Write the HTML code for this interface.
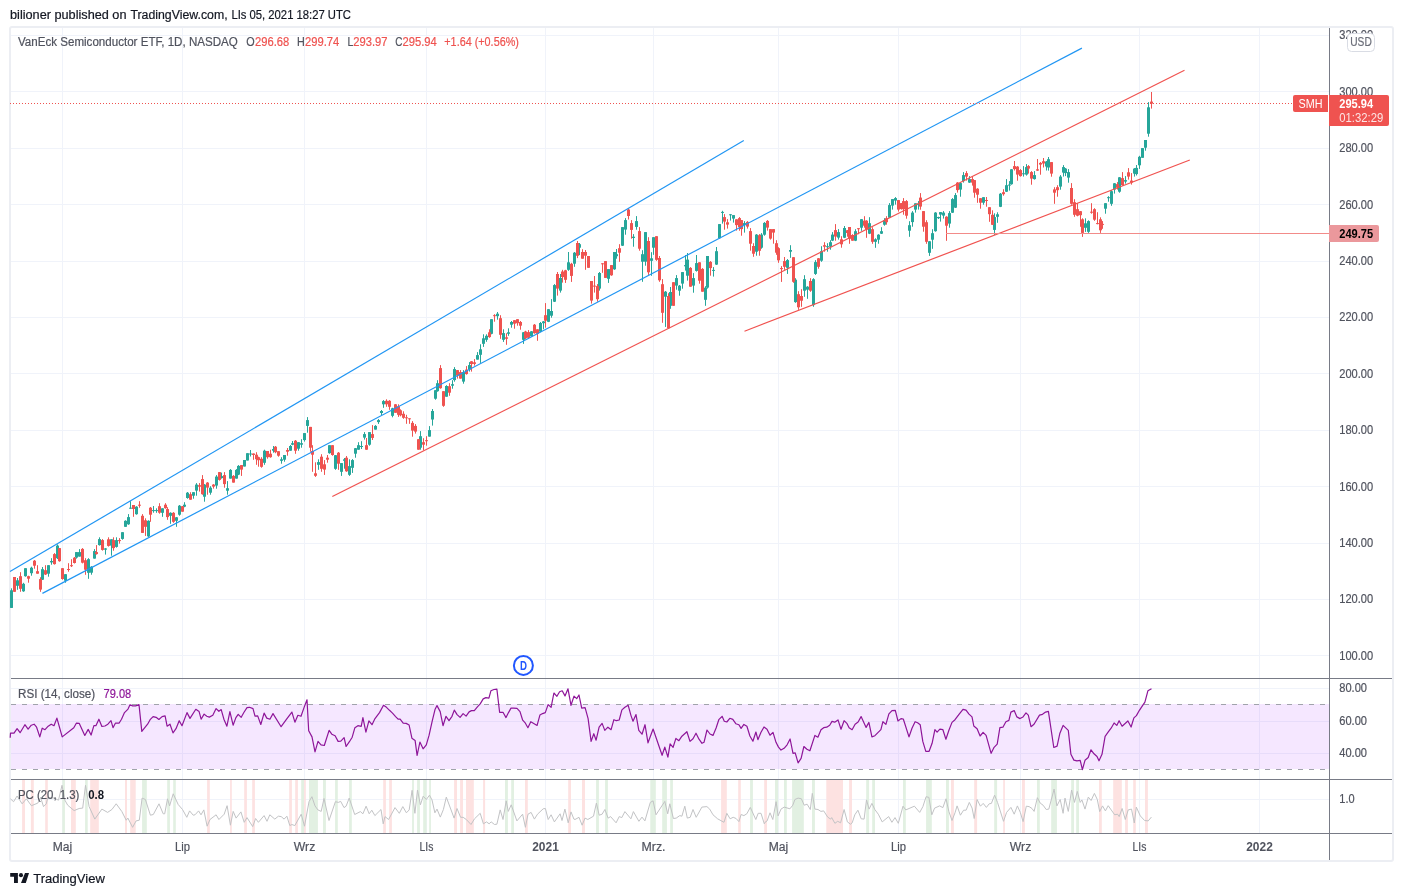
<!DOCTYPE html>
<html lang="pl"><head><meta charset="utf-8"><title>SMH chart</title>
<style>
html,body{margin:0;padding:0;background:#fff;}
body{width:1403px;height:896px;position:relative;overflow:hidden;font-family:"Liberation Sans",sans-serif;}
#frame{position:absolute;left:9px;top:26px;width:1381px;height:832px;border:2px solid #eceef3;border-radius:3px;}
svg{position:absolute;left:0;top:0;}
svg text{font-family:"Liberation Sans",sans-serif;}
</style></head><body>
<div id="frame"></div>
<svg width="1403" height="896" viewBox="0 0 1403 896">
<g><rect x="62" y="28" width="1" height="805" fill="#f0f3fa"/><rect x="182" y="28" width="1" height="805" fill="#f0f3fa"/><rect x="304" y="28" width="1" height="805" fill="#f0f3fa"/><rect x="426" y="28" width="1" height="805" fill="#f0f3fa"/><rect x="545" y="28" width="1" height="805" fill="#f0f3fa"/><rect x="653" y="28" width="1" height="805" fill="#f0f3fa"/><rect x="778" y="28" width="1" height="805" fill="#f0f3fa"/><rect x="898" y="28" width="1" height="805" fill="#f0f3fa"/><rect x="1020" y="28" width="1" height="805" fill="#f0f3fa"/><rect x="1139" y="28" width="1" height="805" fill="#f0f3fa"/><rect x="1259" y="28" width="1" height="805" fill="#f0f3fa"/><rect x="11" y="35" width="1318" height="1" fill="#f0f3fa"/><rect x="11" y="91" width="1318" height="1" fill="#f0f3fa"/><rect x="11" y="148" width="1318" height="1" fill="#f0f3fa"/><rect x="11" y="204" width="1318" height="1" fill="#f0f3fa"/><rect x="11" y="261" width="1318" height="1" fill="#f0f3fa"/><rect x="11" y="317" width="1318" height="1" fill="#f0f3fa"/><rect x="11" y="373" width="1318" height="1" fill="#f0f3fa"/><rect x="11" y="430" width="1318" height="1" fill="#f0f3fa"/><rect x="11" y="486" width="1318" height="1" fill="#f0f3fa"/><rect x="11" y="543" width="1318" height="1" fill="#f0f3fa"/><rect x="11" y="599" width="1318" height="1" fill="#f0f3fa"/><rect x="11" y="655" width="1318" height="1" fill="#f0f3fa"/><rect x="11" y="688" width="1318" height="1" fill="#f0f3fa"/><rect x="11" y="721" width="1318" height="1" fill="#f0f3fa"/><rect x="11" y="753" width="1318" height="1" fill="#f0f3fa"/><rect x="11" y="799" width="1318" height="1" fill="#f0f3fa"/></g>
<rect x="11" y="704" width="1318" height="65" fill="#9915ff" fill-opacity="0.1"/>
<path d="M11 704.5H1329M11 769.5H1329" stroke="#a0a3ab" stroke-width="1" stroke-dasharray="5 6" fill="none"/>
<g><rect x="22.1" y="780" width="2.9" height="53" fill="#fde2e1"/><rect x="30.9" y="780" width="2.9" height="53" fill="#fde2e1"/><rect x="45.2" y="780" width="2.6" height="53" fill="#fde2e1"/><rect x="62.3" y="780" width="2.6" height="53" fill="#e2f0e2"/><rect x="71.0" y="780" width="4.8" height="53" fill="#fde2e1"/><rect x="85.1" y="780" width="2.6" height="53" fill="#e2f0e2"/><rect x="90.2" y="780" width="8.6" height="53" fill="#fde2e1"/><rect x="125.0" y="780" width="2.0" height="53" fill="#fde2e1"/><rect x="130.2" y="780" width="5.5" height="53" fill="#fde2e1"/><rect x="142.1" y="780" width="4.7" height="53" fill="#e2f0e2"/><rect x="167.2" y="780" width="2.7" height="53" fill="#e2f0e2"/><rect x="173.2" y="780" width="2.6" height="53" fill="#e2f0e2"/><rect x="207.1" y="780" width="2.7" height="53" fill="#fde2e1"/><rect x="230.1" y="780" width="1.7" height="53" fill="#fde2e1"/><rect x="244.2" y="780" width="2.7" height="53" fill="#fde2e1"/><rect x="252.2" y="780" width="2.7" height="53" fill="#fde2e1"/><rect x="289.2" y="780" width="2.7" height="53" fill="#fde2e1"/><rect x="295.2" y="780" width="2.7" height="53" fill="#fde2e1"/><rect x="301.2" y="780" width="2.9" height="53" fill="#e2f0e2"/><rect x="304.1" y="780" width="1.7" height="53" fill="#fde2e1"/><rect x="309.0" y="780" width="8.9" height="53" fill="#e2f0e2"/><rect x="323.0" y="780" width="2.9" height="53" fill="#e2f0e2"/><rect x="335.1" y="780" width="2.7" height="53" fill="#e2f0e2"/><rect x="349.1" y="780" width="2.7" height="53" fill="#e2f0e2"/><rect x="383.2" y="780" width="2.7" height="53" fill="#fde2e1"/><rect x="389.2" y="780" width="2.7" height="53" fill="#fde2e1"/><rect x="412.1" y="780" width="1.8" height="53" fill="#e2f0e2"/><rect x="417.1" y="780" width="2.8" height="53" fill="#e2f0e2"/><rect x="423.2" y="780" width="3.4" height="53" fill="#e2f0e2"/><rect x="429.2" y="780" width="1.7" height="53" fill="#e2f0e2"/><rect x="454.1" y="780" width="2.9" height="53" fill="#fde2e1"/><rect x="460.1" y="780" width="2.9" height="53" fill="#fde2e1"/><rect x="466.0" y="780" width="7.8" height="53" fill="#fde2e1"/><rect x="483.1" y="780" width="2.0" height="53" fill="#fde2e1"/><rect x="505.0" y="780" width="2.9" height="53" fill="#e2f0e2"/><rect x="511.2" y="780" width="2.8" height="53" fill="#e2f0e2"/><rect x="525.0" y="780" width="2.8" height="53" fill="#fde2e1"/><rect x="568.2" y="780" width="2.8" height="53" fill="#fde2e1"/><rect x="582.0" y="780" width="3.0" height="53" fill="#fde2e1"/><rect x="596.1" y="780" width="2.8" height="53" fill="#e2f0e2"/><rect x="605.1" y="780" width="2.8" height="53" fill="#e2f0e2"/><rect x="650.3" y="780" width="5.5" height="53" fill="#e2f0e2"/><rect x="662.2" y="780" width="4.7" height="53" fill="#e2f0e2"/><rect x="670.2" y="780" width="2.7" height="53" fill="#e2f0e2"/><rect x="721.1" y="780" width="5.7" height="53" fill="#fde2e1"/><rect x="738.2" y="780" width="2.6" height="53" fill="#fde2e1"/><rect x="750.1" y="780" width="2.8" height="53" fill="#e2f0e2"/><rect x="764.2" y="780" width="2.8" height="53" fill="#fde2e1"/><rect x="775.0" y="780" width="3.1" height="53" fill="#e2f0e2"/><rect x="784.0" y="780" width="2.8" height="53" fill="#e2f0e2"/><rect x="792.1" y="780" width="11.7" height="53" fill="#e2f0e2"/><rect x="812.0" y="780" width="2.9" height="53" fill="#e2f0e2"/><rect x="826.3" y="780" width="16.7" height="53" fill="#fde2e1"/><rect x="849.1" y="780" width="2.9" height="53" fill="#fde2e1"/><rect x="866.2" y="780" width="2.9" height="53" fill="#e2f0e2"/><rect x="872.2" y="780" width="2.8" height="53" fill="#e2f0e2"/><rect x="903.0" y="780" width="2.8" height="53" fill="#e2f0e2"/><rect x="926.1" y="780" width="5.7" height="53" fill="#e2f0e2"/><rect x="946.0" y="780" width="2.9" height="53" fill="#e2f0e2"/><rect x="951.0" y="780" width="2.9" height="53" fill="#fde2e1"/><rect x="974.2" y="780" width="2.9" height="53" fill="#fde2e1"/><rect x="994.2" y="780" width="2.9" height="53" fill="#e2f0e2"/><rect x="1003.2" y="780" width="1.7" height="53" fill="#fde2e1"/><rect x="1022.0" y="780" width="2.9" height="53" fill="#fde2e1"/><rect x="1037.0" y="780" width="2.8" height="53" fill="#e2f0e2"/><rect x="1051.2" y="780" width="5.7" height="53" fill="#e2f0e2"/><rect x="1071.2" y="780" width="2.8" height="53" fill="#e2f0e2"/><rect x="1076.2" y="780" width="2.8" height="53" fill="#e2f0e2"/><rect x="1099.0" y="780" width="2.8" height="53" fill="#fde2e1"/><rect x="1113.2" y="780" width="8.6" height="53" fill="#fde2e1"/><rect x="1125.1" y="780" width="2.8" height="53" fill="#fde2e1"/><rect x="1133.2" y="780" width="2.6" height="53" fill="#fde2e1"/><rect x="1145.0" y="780" width="2.9" height="53" fill="#fde2e1"/></g>
<polyline fill="none" stroke="#c2c3c5" stroke-width="1" stroke-linejoin="round" points="10.4,798.8 13.6,801.7 17.1,796.0 22.1,803.8 26.4,798.8 31.4,805.7 37.8,803.1 40.6,797.4 43.5,806.6 46.3,803.8 47.8,797.4 54.2,798.1 58.5,800.2 62.0,785.3 64.9,800.2 67.7,805.2 74.1,810.6 79.1,808.5 82.7,808.1 85.5,785.3 89.1,806.6 94.8,819.1 101.9,809.1 107.6,812.4 111.9,809.5 116.2,803.8 121.9,811.6 126.2,820.2 127.9,818.1 132.6,827.3 136.1,820.9 139.3,820.2 142.1,798.1 145.4,799.5 150.4,815.2 153.3,814.5 159.0,803.8 163.2,813.8 164.7,813.8 167.5,798.8 169.6,805.9 173.2,793.8 178.2,804.5 182.5,809.5 186.8,817.3 189.6,810.9 193.2,815.2 195.0,814.8 198.6,810.9 201.0,814.8 203.8,809.9 207.1,826.2 210.0,819.5 216.1,814.8 218.9,819.5 224.2,814.2 227.1,805.7 230.4,825.2 233.2,811.4 236.1,818.1 240.9,811.9 244.2,822.3 247.0,817.6 252.7,826.6 255.6,818.5 258.4,822.3 264.1,815.6 267.0,821.3 269.8,814.8 274.8,819.1 278.4,816.2 281.2,816.6 284.1,819.1 286.9,816.2 289.8,825.6 291.9,824.5 294.8,825.6 301.2,814.2 304.5,826.2 309.0,801.7 311.9,796.7 315.0,805.9 317.9,809.9 321.2,811.4 324.0,798.5 329.0,820.5 335.4,801.7 338.3,802.4 340.7,801.4 344.0,807.6 346.1,806.2 349.2,798.1 354.7,814.5 360.4,811.6 362.9,813.8 366.1,806.2 369.2,813.8 371.8,810.2 374.9,815.6 381.0,809.5 383.2,823.8 385.0,816.6 388.6,819.5 395.0,807.6 399.3,813.3 402.8,806.6 406.4,812.8 409.2,809.9 412.1,790.3 414.9,813.3 417.5,790.0 420.4,804.8 423.2,796.2 426.3,799.5 429.5,795.2 432.0,799.9 434.9,812.8 437.0,809.1 440.3,817.1 443.4,809.5 446.3,797.1 454.1,818.1 457.0,808.5 460.6,817.3 463.1,817.3 466.3,819.5 471.0,824.5 474.5,818.8 480.2,813.3 483.4,823.8 486.5,821.9 489.1,823.8 491.2,821.9 494.5,824.5 496.9,824.2 500.2,809.9 503.0,819.5 506.2,800.9 508.3,811.4 511.2,804.8 516.9,820.9 522.6,814.2 525.4,827.3 528.0,814.2 531.1,812.4 534.4,819.1 537.5,814.2 543.2,808.8 545.4,808.5 548.2,819.5 551.1,814.8 554.4,821.9 560.1,813.8 562.0,820.5 564.9,809.1 568.2,822.8 571.0,811.9 573.9,819.1 575.0,819.5 579.0,817.3 582.1,825.2 585.0,818.1 587.8,819.5 593.5,816.2 596.4,803.1 599.2,815.2 602.1,814.2 604.9,809.5 608.1,818.1 610.6,816.6 616.1,822.8 619.2,816.6 621.8,817.6 624.9,811.6 630.9,818.8 633.4,811.6 638.9,821.3 642.0,817.1 644.9,820.9 650.3,802.4 653.1,800.9 656.0,814.8 664.8,801.4 667.7,813.8 669.8,803.8 673.4,818.5 676.2,818.1 679.8,815.6 681.9,816.2 684.8,806.2 687.3,818.1 690.2,817.3 693.0,809.5 696.2,817.3 701.9,807.1 706.9,806.6 709.7,809.1 713.0,814.8 717.6,818.8 724.0,822.3 726.8,813.3 730.1,818.8 733.2,817.3 736.1,818.5 738.9,821.6 741.1,814.5 743.9,815.6 746.8,813.8 750.3,807.4 755.8,819.5 758.2,813.3 761.0,813.3 764.3,823.8 765.0,822.3 767.1,820.9 770.0,812.8 772.8,819.5 776.1,801.7 778.1,815.9 781.0,809.1 784.2,807.1 789.9,808.8 792.8,805.2 794.9,799.5 798.1,798.1 801.4,798.8 804.2,805.2 807.1,804.2 810.3,809.5 812.3,793.4 814.9,809.1 818.0,809.5 820.9,811.4 823.7,810.9 827.7,817.1 830.6,819.1 831.7,817.6 834.9,823.3 837.7,821.3 840.6,822.8 844.1,809.5 847.4,821.9 850.5,824.2 852.2,822.8 854.8,814.8 857.9,810.2 861.2,818.8 864.1,819.1 866.5,799.9 869.1,809.1 871.9,803.4 874.8,809.5 878.3,814.2 882.2,821.9 888.7,816.6 891.9,822.3 895.0,817.6 898.3,823.3 903.0,806.2 905.8,809.9 914.4,806.2 919.7,812.4 922.9,806.6 926.1,796.7 928.9,797.4 931.8,814.8 934.6,808.1 939.6,805.9 942.9,807.6 946.0,798.8 948.9,811.6 952.0,820.5 955.0,812.8 957.1,805.9 960.4,815.2 963.6,810.2 966.1,810.2 969.3,802.4 972.1,808.1 974.2,818.5 977.1,799.5 980.4,806.2 983.2,803.4 986.4,807.4 989.2,803.8 991.4,803.4 994.6,795.2 997.5,802.4 1003.5,821.3 1006.6,812.4 1010.9,807.4 1014.2,814.2 1017.4,805.9 1020.3,812.4 1023.1,821.6 1026.3,806.2 1029.1,806.6 1032.0,808.5 1034.1,811.4 1037.4,797.7 1040.2,803.1 1043.1,805.2 1046.2,809.5 1048.8,809.1 1054.1,789.1 1056.9,805.9 1060.2,799.5 1063.1,813.3 1065.0,798.1 1068.3,811.4 1071.6,790.0 1074.5,802.4 1077.3,791.4 1080.2,802.4 1081.9,799.9 1085.0,809.1 1088.3,797.1 1091.1,800.5 1094.4,793.4 1097.3,799.5 1099.7,811.6 1102.5,805.9 1105.4,810.9 1108.2,805.7 1114.7,814.8 1117.5,814.2 1119.2,816.6 1122.1,808.5 1125.3,819.5 1128.2,809.9 1131.5,809.1 1134.3,823.0 1136.3,807.1 1140.3,815.9 1144.6,820.5 1148.2,820.9 1151.4,817.1"/>
<g fill="#26a69a"><rect x="11" y="588.3" width="1" height="19.6"/><rect x="10" y="590.3" width="3" height="17.6"/><rect x="17" y="578.0" width="1" height="11.8"/><rect x="16" y="580.3" width="3" height="5.5"/><rect x="23" y="582.8" width="1" height="9.0"/><rect x="22" y="583.8" width="3" height="7.5"/><rect x="25" y="568.2" width="1" height="8.5"/><rect x="24" y="568.2" width="3" height="8.0"/><rect x="31" y="566.7" width="1" height="9.0"/><rect x="30" y="567.7" width="3" height="5.5"/><rect x="42" y="567.0" width="1" height="13.0"/><rect x="41" y="569.2" width="3" height="10.5"/><rect x="48" y="565.2" width="1" height="11.5"/><rect x="47" y="565.2" width="3" height="8.5"/><rect x="51" y="558.2" width="1" height="6.5"/><rect x="50" y="561.0" width="3" height="1.4"/><rect x="57" y="544.4" width="1" height="14.6"/><rect x="56" y="545.6" width="3" height="12.6"/><rect x="65" y="574.2" width="1" height="8.5"/><rect x="64" y="574.2" width="3" height="6.5"/><rect x="76" y="552.1" width="1" height="6.5"/><rect x="75" y="552.1" width="3" height="5.5"/><rect x="79" y="549.1" width="1" height="7.5"/><rect x="78" y="552.1" width="3" height="4.5"/><rect x="88" y="558.2" width="1" height="20.6"/><rect x="87" y="559.2" width="3" height="13.6"/><rect x="91" y="566.2" width="1" height="8.5"/><rect x="90" y="566.7" width="3" height="6.0"/><rect x="94" y="549.1" width="1" height="9.5"/><rect x="93" y="551.1" width="3" height="7.5"/><rect x="99" y="537.3" width="1" height="8.3"/><rect x="98" y="539.1" width="3" height="6.0"/><rect x="105" y="548.1" width="1" height="6.5"/><rect x="104" y="548.4" width="3" height="1.3"/><rect x="111" y="539.3" width="1" height="16.4"/><rect x="110" y="539.3" width="3" height="6.3"/><rect x="116" y="537.3" width="1" height="10.3"/><rect x="115" y="540.1" width="3" height="6.8"/><rect x="122" y="532.2" width="1" height="7.5"/><rect x="121" y="532.2" width="3" height="6.7"/><rect x="125" y="520.3" width="1" height="6.5"/><rect x="124" y="520.8" width="3" height="6.0"/><rect x="128" y="514.1" width="1" height="10.7"/><rect x="127" y="517.1" width="3" height="7.2"/><rect x="130" y="501.2" width="1" height="7.5"/><rect x="129" y="507.7" width="3" height="1.0"/><rect x="136" y="506.2" width="1" height="8.5"/><rect x="135" y="506.7" width="3" height="7.5"/><rect x="148" y="520.3" width="1" height="16.6"/><rect x="147" y="520.8" width="3" height="15.6"/><rect x="153" y="506.0" width="1" height="6.7"/><rect x="152" y="510.1" width="3" height="1.0"/><rect x="156" y="508.3" width="1" height="4.5"/><rect x="155" y="510.1" width="3" height="1.0"/><rect x="162" y="508.3" width="1" height="8.5"/><rect x="161" y="508.3" width="3" height="4.5"/><rect x="170" y="512.3" width="1" height="11.5"/><rect x="169" y="512.8" width="3" height="3.0"/><rect x="176" y="517.1" width="1" height="9.7"/><rect x="175" y="517.3" width="3" height="3.5"/><rect x="179" y="505.0" width="1" height="10.7"/><rect x="178" y="505.7" width="3" height="9.0"/><rect x="184" y="502.2" width="1" height="5.0"/><rect x="183" y="504.7" width="3" height="2.0"/><rect x="187" y="492.0" width="1" height="6.7"/><rect x="186" y="492.7" width="3" height="5.3"/><rect x="193" y="492.2" width="1" height="6.5"/><rect x="192" y="492.2" width="3" height="3.5"/><rect x="196" y="483.1" width="1" height="12.6"/><rect x="195" y="484.6" width="3" height="6.0"/><rect x="204" y="484.1" width="1" height="17.6"/><rect x="203" y="484.6" width="3" height="12.1"/><rect x="210" y="486.2" width="1" height="8.5"/><rect x="209" y="487.7" width="3" height="5.0"/><rect x="216" y="475.1" width="1" height="13.6"/><rect x="215" y="476.6" width="3" height="9.0"/><rect x="221" y="472.6" width="1" height="6.0"/><rect x="220" y="476.1" width="3" height="2.0"/><rect x="227" y="481.1" width="1" height="13.6"/><rect x="226" y="488.2" width="3" height="2.5"/><rect x="230" y="469.1" width="1" height="9.5"/><rect x="229" y="469.9" width="3" height="8.7"/><rect x="236" y="469.1" width="1" height="9.5"/><rect x="235" y="469.9" width="3" height="8.7"/><rect x="238" y="465.1" width="1" height="10.0"/><rect x="237" y="465.9" width="3" height="8.7"/><rect x="244" y="460.0" width="1" height="6.5"/><rect x="243" y="460.0" width="3" height="6.5"/><rect x="247" y="453.2" width="1" height="7.3"/><rect x="246" y="453.2" width="3" height="7.3"/><rect x="250" y="450.0" width="1" height="6.5"/><rect x="249" y="453.5" width="3" height="1.0"/><rect x="264" y="449.7" width="1" height="15.1"/><rect x="263" y="450.7" width="3" height="12.1"/><rect x="273" y="446.0" width="1" height="6.7"/><rect x="272" y="449.0" width="3" height="1.7"/><rect x="281" y="457.2" width="1" height="6.5"/><rect x="280" y="459.3" width="3" height="1.5"/><rect x="284" y="455.0" width="1" height="6.7"/><rect x="283" y="455.0" width="3" height="4.7"/><rect x="290" y="445.0" width="1" height="5.7"/><rect x="289" y="446.0" width="3" height="4.7"/><rect x="292" y="441.0" width="1" height="4.2"/><rect x="291" y="443.2" width="3" height="1.5"/><rect x="298" y="442.2" width="1" height="8.5"/><rect x="297" y="442.2" width="3" height="6.5"/><rect x="301" y="439.2" width="1" height="8.5"/><rect x="300" y="443.2" width="3" height="1.5"/><rect x="304" y="433.1" width="1" height="8.5"/><rect x="303" y="433.1" width="3" height="7.0"/><rect x="307" y="417.1" width="1" height="15.6"/><rect x="306" y="420.1" width="3" height="5.8"/><rect x="318" y="459.3" width="1" height="10.5"/><rect x="317" y="462.1" width="3" height="2.7"/><rect x="329" y="445.2" width="1" height="8.5"/><rect x="328" y="445.2" width="3" height="8.0"/><rect x="335" y="455.0" width="1" height="14.8"/><rect x="334" y="455.2" width="3" height="13.6"/><rect x="341" y="463.1" width="1" height="12.8"/><rect x="340" y="463.1" width="3" height="8.7"/><rect x="344" y="458.0" width="1" height="10.7"/><rect x="343" y="459.3" width="3" height="1.5"/><rect x="349" y="459.3" width="1" height="16.6"/><rect x="348" y="466.1" width="3" height="8.7"/><rect x="352" y="459.1" width="1" height="13.8"/><rect x="351" y="460.1" width="3" height="7.7"/><rect x="355" y="448.0" width="1" height="9.7"/><rect x="354" y="448.2" width="3" height="5.5"/><rect x="358" y="442.2" width="1" height="7.5"/><rect x="357" y="445.2" width="3" height="4.5"/><rect x="361" y="441.2" width="1" height="7.8"/><rect x="360" y="446.0" width="3" height="1.0"/><rect x="364" y="432.1" width="1" height="7.5"/><rect x="363" y="434.1" width="3" height="3.5"/><rect x="369" y="432.1" width="1" height="13.6"/><rect x="368" y="432.1" width="3" height="12.6"/><rect x="375" y="425.1" width="1" height="4.5"/><rect x="374" y="425.9" width="3" height="3.7"/><rect x="378" y="419.1" width="1" height="4.8"/><rect x="377" y="420.1" width="3" height="2.0"/><rect x="381" y="410.0" width="1" height="5.0"/><rect x="380" y="411.0" width="3" height="2.0"/><rect x="383" y="400.1" width="1" height="7.7"/><rect x="382" y="401.1" width="3" height="3.2"/><rect x="392" y="407.8" width="1" height="9.5"/><rect x="391" y="408.3" width="3" height="7.5"/><rect x="420" y="431.1" width="1" height="18.6"/><rect x="419" y="436.2" width="3" height="11.5"/><rect x="429" y="426.1" width="1" height="10.5"/><rect x="428" y="430.1" width="3" height="6.5"/><rect x="432" y="409.0" width="1" height="16.6"/><rect x="431" y="411.0" width="3" height="8.5"/><rect x="435" y="390.2" width="1" height="9.5"/><rect x="434" y="390.2" width="3" height="8.5"/><rect x="437" y="380.2" width="1" height="11.5"/><rect x="436" y="383.2" width="3" height="8.0"/><rect x="446" y="385.2" width="1" height="11.5"/><rect x="445" y="386.0" width="3" height="10.7"/><rect x="452" y="380.2" width="1" height="8.5"/><rect x="451" y="384.2" width="3" height="1.5"/><rect x="454" y="367.1" width="1" height="14.6"/><rect x="453" y="369.1" width="3" height="11.0"/><rect x="463" y="370.1" width="1" height="13.6"/><rect x="462" y="372.1" width="3" height="9.5"/><rect x="469" y="362.1" width="1" height="9.5"/><rect x="468" y="365.1" width="3" height="4.5"/><rect x="477" y="352.1" width="1" height="7.5"/><rect x="476" y="355.1" width="3" height="4.5"/><rect x="480" y="344.3" width="1" height="18.6"/><rect x="479" y="349.3" width="3" height="5.5"/><rect x="483" y="334.3" width="1" height="12.6"/><rect x="482" y="338.3" width="3" height="5.5"/><rect x="486" y="334.3" width="1" height="7.5"/><rect x="485" y="335.8" width="3" height="4.0"/><rect x="491" y="319.2" width="1" height="15.1"/><rect x="490" y="319.2" width="3" height="14.6"/><rect x="497" y="312.0" width="1" height="7.7"/><rect x="496" y="313.7" width="3" height="2.5"/><rect x="503" y="329.3" width="1" height="12.6"/><rect x="502" y="333.1" width="3" height="6.7"/><rect x="508" y="328.3" width="1" height="7.5"/><rect x="507" y="332.3" width="3" height="1.5"/><rect x="511" y="321.0" width="1" height="6.7"/><rect x="510" y="322.0" width="3" height="2.7"/><rect x="523" y="332.1" width="1" height="11.8"/><rect x="522" y="332.3" width="3" height="7.5"/><rect x="531" y="331.1" width="1" height="5.7"/><rect x="530" y="331.3" width="3" height="5.0"/><rect x="540" y="322.0" width="1" height="10.2"/><rect x="539" y="323.0" width="3" height="8.7"/><rect x="543" y="321.0" width="1" height="8.2"/><rect x="542" y="321.4" width="3" height="1.8"/><rect x="548" y="309.0" width="1" height="13.1"/><rect x="547" y="309.2" width="3" height="12.6"/><rect x="551" y="299.1" width="1" height="18.6"/><rect x="550" y="311.0" width="3" height="4.7"/><rect x="554" y="284.1" width="1" height="17.9"/><rect x="553" y="285.1" width="3" height="16.6"/><rect x="560" y="274.0" width="1" height="18.6"/><rect x="559" y="278.0" width="3" height="12.6"/><rect x="568" y="252.0" width="1" height="18.8"/><rect x="567" y="262.3" width="3" height="7.5"/><rect x="574" y="252.0" width="1" height="14.8"/><rect x="573" y="252.7" width="3" height="11.0"/><rect x="579" y="243.0" width="1" height="12.1"/><rect x="578" y="244.2" width="3" height="3.5"/><rect x="599" y="272.0" width="1" height="18.6"/><rect x="598" y="273.0" width="3" height="15.6"/><rect x="608" y="269.1" width="1" height="13.8"/><rect x="607" y="269.1" width="3" height="9.7"/><rect x="614" y="252.0" width="1" height="17.8"/><rect x="613" y="252.0" width="3" height="17.3"/><rect x="616" y="249.0" width="1" height="9.7"/><rect x="615" y="254.2" width="3" height="2.0"/><rect x="622" y="227.1" width="1" height="18.9"/><rect x="621" y="227.1" width="3" height="18.6"/><rect x="625" y="218.1" width="1" height="16.6"/><rect x="624" y="220.1" width="3" height="9.5"/><rect x="633" y="234.1" width="1" height="12.6"/><rect x="632" y="236.7" width="3" height="1.3"/><rect x="636" y="216.1" width="1" height="13.6"/><rect x="635" y="221.1" width="3" height="5.8"/><rect x="642" y="250.2" width="1" height="31.6"/><rect x="641" y="254.2" width="3" height="7.5"/><rect x="645" y="232.1" width="1" height="33.6"/><rect x="644" y="232.1" width="3" height="29.6"/><rect x="651" y="252.2" width="1" height="23.6"/><rect x="650" y="258.3" width="3" height="2.5"/><rect x="653" y="237.2" width="1" height="17.6"/><rect x="652" y="237.2" width="3" height="10.5"/><rect x="665" y="291.0" width="1" height="35.9"/><rect x="664" y="291.7" width="3" height="5.0"/><rect x="670" y="287.0" width="1" height="21.8"/><rect x="669" y="292.0" width="3" height="13.8"/><rect x="676" y="275.1" width="1" height="14.6"/><rect x="675" y="278.1" width="3" height="7.5"/><rect x="679" y="285.0" width="1" height="10.7"/><rect x="678" y="285.7" width="3" height="5.0"/><rect x="682" y="272.1" width="1" height="16.6"/><rect x="681" y="272.1" width="3" height="11.5"/><rect x="685" y="255.0" width="1" height="15.6"/><rect x="684" y="265.1" width="3" height="1.2"/><rect x="687" y="253.0" width="1" height="27.6"/><rect x="686" y="259.6" width="3" height="16.1"/><rect x="693" y="273.1" width="1" height="19.6"/><rect x="692" y="278.1" width="3" height="7.5"/><rect x="696" y="255.0" width="1" height="16.6"/><rect x="695" y="263.1" width="3" height="7.8"/><rect x="705" y="286.2" width="1" height="19.6"/><rect x="704" y="287.7" width="3" height="12.1"/><rect x="707" y="256.0" width="1" height="32.6"/><rect x="706" y="256.0" width="3" height="31.6"/><rect x="713" y="267.1" width="1" height="9.5"/><rect x="712" y="269.9" width="3" height="1.0"/><rect x="716" y="247.0" width="1" height="17.9"/><rect x="715" y="251.2" width="3" height="13.4"/><rect x="719" y="224.1" width="1" height="14.6"/><rect x="718" y="224.1" width="3" height="14.1"/><rect x="722" y="210.8" width="1" height="12.8"/><rect x="721" y="211.9" width="3" height="1.0"/><rect x="730" y="214.1" width="1" height="6.5"/><rect x="729" y="214.3" width="3" height="1.0"/><rect x="733" y="215.1" width="1" height="7.5"/><rect x="732" y="215.1" width="3" height="3.5"/><rect x="744" y="221.1" width="1" height="11.5"/><rect x="743" y="223.1" width="3" height="2.0"/><rect x="756" y="234.1" width="1" height="21.6"/><rect x="755" y="234.6" width="3" height="17.1"/><rect x="761" y="233.1" width="1" height="15.6"/><rect x="760" y="234.6" width="3" height="13.1"/><rect x="764" y="222.1" width="1" height="13.6"/><rect x="763" y="222.9" width="3" height="11.8"/><rect x="787" y="259.1" width="1" height="14.8"/><rect x="786" y="260.1" width="3" height="7.7"/><rect x="790" y="245.2" width="1" height="12.6"/><rect x="789" y="250.0" width="3" height="1.7"/><rect x="795" y="278.2" width="1" height="24.6"/><rect x="794" y="279.7" width="3" height="22.4"/><rect x="804" y="275.2" width="1" height="21.6"/><rect x="803" y="279.2" width="3" height="11.5"/><rect x="807" y="286.2" width="1" height="12.6"/><rect x="806" y="286.7" width="3" height="3.0"/><rect x="813" y="278.2" width="1" height="28.6"/><rect x="812" y="279.2" width="3" height="25.9"/><rect x="815" y="260.1" width="1" height="14.8"/><rect x="814" y="262.1" width="3" height="11.8"/><rect x="821" y="246.2" width="1" height="15.6"/><rect x="820" y="251.2" width="3" height="9.5"/><rect x="827" y="243.2" width="1" height="8.5"/><rect x="826" y="246.2" width="3" height="1.0"/><rect x="830" y="240.2" width="1" height="9.5"/><rect x="829" y="242.2" width="3" height="4.5"/><rect x="832" y="232.1" width="1" height="9.0"/><rect x="831" y="234.6" width="3" height="6.0"/><rect x="838" y="229.1" width="1" height="10.5"/><rect x="837" y="232.1" width="3" height="5.5"/><rect x="844" y="226.0" width="1" height="12.1"/><rect x="843" y="228.0" width="3" height="9.7"/><rect x="855" y="229.2" width="1" height="11.9"/><rect x="854" y="231.2" width="3" height="9.5"/><rect x="861" y="219.0" width="1" height="11.8"/><rect x="860" y="219.2" width="3" height="8.5"/><rect x="869" y="217.2" width="1" height="16.9"/><rect x="868" y="223.2" width="3" height="10.5"/><rect x="875" y="238.3" width="1" height="9.5"/><rect x="874" y="239.3" width="3" height="2.5"/><rect x="878" y="234.2" width="1" height="9.5"/><rect x="877" y="234.7" width="3" height="5.0"/><rect x="881" y="227.2" width="1" height="6.8"/><rect x="880" y="231.2" width="3" height="2.5"/><rect x="884" y="218.2" width="1" height="7.5"/><rect x="883" y="220.2" width="3" height="4.5"/><rect x="889" y="203.1" width="1" height="14.9"/><rect x="888" y="205.1" width="3" height="12.6"/><rect x="892" y="199.1" width="1" height="10.5"/><rect x="891" y="199.1" width="3" height="6.5"/><rect x="895" y="197.1" width="1" height="7.5"/><rect x="894" y="198.1" width="3" height="2.5"/><rect x="909" y="221.2" width="1" height="15.6"/><rect x="908" y="225.2" width="3" height="5.5"/><rect x="912" y="211.1" width="1" height="15.6"/><rect x="911" y="212.6" width="3" height="9.5"/><rect x="915" y="203.3" width="1" height="9.3"/><rect x="914" y="203.3" width="3" height="6.3"/><rect x="918" y="201.1" width="1" height="8.5"/><rect x="917" y="204.1" width="3" height="1.0"/><rect x="929" y="241.1" width="1" height="14.8"/><rect x="928" y="241.3" width="3" height="11.5"/><rect x="932" y="229.2" width="1" height="19.6"/><rect x="931" y="233.2" width="3" height="6.5"/><rect x="935" y="212.1" width="1" height="19.6"/><rect x="934" y="212.6" width="3" height="18.6"/><rect x="938" y="216.7" width="1" height="2.3"/><rect x="937" y="217.0" width="3" height="1.2"/><rect x="940" y="212.1" width="1" height="9.5"/><rect x="939" y="212.1" width="3" height="2.5"/><rect x="943" y="211.1" width="1" height="7.5"/><rect x="942" y="212.6" width="3" height="3.0"/><rect x="949" y="211.1" width="1" height="16.6"/><rect x="948" y="213.1" width="3" height="10.5"/><rect x="952" y="198.1" width="1" height="14.9"/><rect x="951" y="199.1" width="3" height="13.6"/><rect x="955" y="193.1" width="1" height="14.9"/><rect x="954" y="195.1" width="3" height="12.6"/><rect x="960" y="182.1" width="1" height="14.6"/><rect x="959" y="183.1" width="3" height="6.5"/><rect x="963" y="172.1" width="1" height="10.5"/><rect x="962" y="175.1" width="3" height="6.0"/><rect x="969" y="176.1" width="1" height="6.8"/><rect x="968" y="179.1" width="3" height="3.5"/><rect x="983" y="197.2" width="1" height="7.5"/><rect x="982" y="197.2" width="3" height="5.5"/><rect x="994" y="213.3" width="1" height="21.6"/><rect x="993" y="217.1" width="3" height="12.8"/><rect x="997" y="212.3" width="1" height="10.5"/><rect x="996" y="214.3" width="3" height="2.5"/><rect x="1000" y="193.0" width="1" height="14.1"/><rect x="999" y="193.7" width="3" height="13.1"/><rect x="1006" y="179.1" width="1" height="12.9"/><rect x="1005" y="185.2" width="3" height="6.5"/><rect x="1009" y="181.1" width="1" height="9.5"/><rect x="1008" y="184.6" width="3" height="1.0"/><rect x="1011" y="169.1" width="1" height="15.6"/><rect x="1010" y="169.3" width="3" height="14.9"/><rect x="1023" y="166.1" width="1" height="10.5"/><rect x="1022" y="173.3" width="3" height="1.0"/><rect x="1026" y="164.1" width="1" height="11.5"/><rect x="1025" y="167.1" width="3" height="7.5"/><rect x="1034" y="171.1" width="1" height="8.5"/><rect x="1033" y="175.1" width="3" height="4.0"/><rect x="1046" y="161.0" width="1" height="9.5"/><rect x="1045" y="161.5" width="3" height="5.0"/><rect x="1048" y="157.0" width="1" height="13.6"/><rect x="1047" y="159.2" width="3" height="8.3"/><rect x="1060" y="175.1" width="1" height="14.6"/><rect x="1059" y="176.6" width="3" height="10.0"/><rect x="1063" y="165.1" width="1" height="11.5"/><rect x="1062" y="167.1" width="3" height="5.5"/><rect x="1065" y="168.1" width="1" height="8.0"/><rect x="1064" y="168.6" width="3" height="4.5"/><rect x="1068" y="169.1" width="1" height="13.6"/><rect x="1067" y="172.1" width="3" height="5.5"/><rect x="1085" y="218.3" width="1" height="13.6"/><rect x="1084" y="223.3" width="3" height="4.5"/><rect x="1088" y="220.3" width="1" height="12.6"/><rect x="1087" y="221.1" width="3" height="10.7"/><rect x="1105" y="203.2" width="1" height="10.5"/><rect x="1104" y="203.2" width="3" height="5.5"/><rect x="1108" y="196.2" width="1" height="5.5"/><rect x="1107" y="197.2" width="3" height="1.0"/><rect x="1111" y="190.2" width="1" height="15.6"/><rect x="1110" y="191.2" width="3" height="12.6"/><rect x="1114" y="183.1" width="1" height="10.5"/><rect x="1113" y="183.3" width="3" height="6.3"/><rect x="1119" y="177.1" width="1" height="15.6"/><rect x="1118" y="177.3" width="3" height="14.4"/><rect x="1125" y="176.1" width="1" height="7.5"/><rect x="1124" y="180.1" width="3" height="1.5"/><rect x="1134" y="168.1" width="1" height="8.5"/><rect x="1133" y="168.6" width="3" height="5.0"/><rect x="1136" y="165.0" width="1" height="10.5"/><rect x="1135" y="167.9" width="3" height="6.2"/><rect x="1139" y="155.8" width="1" height="13.1"/><rect x="1138" y="156.8" width="3" height="8.5"/><rect x="1142" y="148.1" width="1" height="9.7"/><rect x="1141" y="148.1" width="3" height="9.7"/><rect x="1145" y="140.0" width="1" height="10.7"/><rect x="1144" y="140.0" width="3" height="7.7"/><rect x="1148" y="102.1" width="1" height="34.6"/><rect x="1147" y="107.3" width="3" height="26.4"/></g>
<g fill="#ef5350"><rect x="14" y="577.0" width="1" height="14.8"/><rect x="13" y="577.0" width="3" height="14.8"/><rect x="20" y="572.2" width="1" height="19.6"/><rect x="19" y="576.2" width="3" height="12.6"/><rect x="28" y="575.7" width="1" height="7.0"/><rect x="27" y="576.2" width="3" height="2.5"/><rect x="34" y="560.0" width="1" height="8.7"/><rect x="33" y="560.7" width="3" height="5.0"/><rect x="37" y="565.2" width="1" height="8.5"/><rect x="36" y="571.2" width="3" height="2.5"/><rect x="40" y="577.2" width="1" height="14.6"/><rect x="39" y="579.1" width="3" height="10.5"/><rect x="45" y="565.2" width="1" height="9.8"/><rect x="44" y="570.2" width="3" height="4.3"/><rect x="54" y="553.1" width="1" height="11.5"/><rect x="53" y="554.1" width="3" height="10.0"/><rect x="59" y="548.1" width="1" height="13.6"/><rect x="58" y="548.1" width="3" height="13.1"/><rect x="62" y="568.2" width="1" height="11.5"/><rect x="61" y="568.2" width="3" height="10.8"/><rect x="68" y="563.2" width="1" height="8.5"/><rect x="67" y="569.0" width="3" height="1.0"/><rect x="71" y="559.2" width="1" height="7.8"/><rect x="70" y="565.2" width="3" height="1.0"/><rect x="74" y="557.0" width="1" height="6.5"/><rect x="73" y="557.7" width="3" height="5.3"/><rect x="82" y="548.1" width="1" height="15.3"/><rect x="81" y="548.9" width="3" height="13.8"/><rect x="85" y="558.2" width="1" height="16.6"/><rect x="84" y="560.2" width="3" height="9.5"/><rect x="96" y="545.1" width="1" height="9.5"/><rect x="95" y="552.1" width="3" height="2.0"/><rect x="102" y="539.1" width="1" height="11.5"/><rect x="101" y="540.1" width="3" height="9.8"/><rect x="108" y="537.3" width="1" height="9.3"/><rect x="107" y="539.3" width="3" height="6.6"/><rect x="113" y="537.3" width="1" height="13.4"/><rect x="112" y="540.1" width="3" height="8.0"/><rect x="119" y="538.1" width="1" height="5.5"/><rect x="118" y="540.1" width="3" height="1.0"/><rect x="133" y="505.0" width="1" height="11.8"/><rect x="132" y="505.0" width="3" height="4.0"/><rect x="139" y="501.2" width="1" height="6.5"/><rect x="138" y="504.7" width="3" height="1.0"/><rect x="142" y="514.1" width="1" height="18.8"/><rect x="141" y="515.8" width="3" height="17.1"/><rect x="145" y="518.3" width="1" height="17.6"/><rect x="144" y="520.3" width="3" height="6.5"/><rect x="150" y="507.0" width="1" height="14.8"/><rect x="149" y="507.7" width="3" height="7.0"/><rect x="159" y="503.2" width="1" height="10.5"/><rect x="158" y="506.2" width="3" height="6.5"/><rect x="165" y="503.2" width="1" height="5.5"/><rect x="164" y="504.7" width="3" height="3.5"/><rect x="167" y="507.2" width="1" height="12.6"/><rect x="166" y="509.1" width="3" height="8.0"/><rect x="173" y="512.1" width="1" height="10.7"/><rect x="172" y="512.8" width="3" height="9.0"/><rect x="182" y="506.0" width="1" height="5.7"/><rect x="181" y="506.2" width="3" height="5.5"/><rect x="190" y="492.2" width="1" height="7.5"/><rect x="189" y="494.2" width="3" height="5.5"/><rect x="199" y="483.1" width="1" height="8.5"/><rect x="198" y="485.2" width="3" height="1.5"/><rect x="202" y="475.1" width="1" height="19.6"/><rect x="201" y="479.1" width="3" height="15.1"/><rect x="207" y="482.1" width="1" height="12.6"/><rect x="206" y="482.6" width="3" height="5.0"/><rect x="213" y="484.1" width="1" height="4.5"/><rect x="212" y="484.6" width="3" height="2.0"/><rect x="219" y="472.1" width="1" height="8.5"/><rect x="218" y="472.1" width="3" height="7.8"/><rect x="224" y="472.1" width="1" height="15.6"/><rect x="223" y="475.1" width="3" height="9.0"/><rect x="233" y="475.1" width="1" height="7.5"/><rect x="232" y="475.9" width="3" height="6.7"/><rect x="241" y="465.1" width="1" height="10.8"/><rect x="240" y="465.1" width="3" height="4.5"/><rect x="253" y="453.5" width="1" height="6.3"/><rect x="252" y="453.5" width="3" height="1.5"/><rect x="256" y="452.2" width="1" height="12.6"/><rect x="255" y="454.7" width="3" height="4.5"/><rect x="258" y="456.7" width="1" height="10.0"/><rect x="257" y="457.2" width="3" height="3.0"/><rect x="261" y="457.2" width="1" height="10.5"/><rect x="260" y="458.8" width="3" height="8.0"/><rect x="267" y="451.0" width="1" height="7.7"/><rect x="266" y="451.0" width="3" height="6.2"/><rect x="270" y="449.7" width="1" height="8.0"/><rect x="269" y="453.7" width="3" height="3.5"/><rect x="275" y="446.0" width="1" height="7.2"/><rect x="274" y="446.7" width="3" height="5.5"/><rect x="278" y="451.2" width="1" height="5.5"/><rect x="277" y="451.2" width="3" height="4.5"/><rect x="287" y="448.0" width="1" height="7.7"/><rect x="286" y="450.0" width="3" height="1.7"/><rect x="295" y="440.0" width="1" height="13.8"/><rect x="294" y="440.7" width="3" height="10.0"/><rect x="310" y="426.9" width="1" height="24.8"/><rect x="309" y="426.9" width="3" height="20.8"/><rect x="312" y="445.2" width="1" height="26.6"/><rect x="311" y="451.0" width="3" height="3.7"/><rect x="315" y="462.3" width="1" height="14.6"/><rect x="314" y="473.3" width="3" height="2.5"/><rect x="321" y="454.2" width="1" height="17.6"/><rect x="320" y="456.7" width="3" height="12.1"/><rect x="324" y="460.1" width="1" height="14.8"/><rect x="323" y="464.3" width="3" height="5.3"/><rect x="327" y="455.0" width="1" height="7.7"/><rect x="326" y="457.7" width="3" height="2.0"/><rect x="332" y="445.2" width="1" height="10.5"/><rect x="331" y="445.2" width="3" height="9.8"/><rect x="338" y="452.0" width="1" height="17.8"/><rect x="337" y="452.7" width="3" height="11.0"/><rect x="346" y="456.0" width="1" height="15.8"/><rect x="345" y="457.7" width="3" height="13.6"/><rect x="366" y="438.0" width="1" height="11.8"/><rect x="365" y="445.2" width="3" height="4.5"/><rect x="372" y="425.1" width="1" height="14.9"/><rect x="371" y="434.1" width="3" height="3.8"/><rect x="386" y="399.3" width="1" height="7.5"/><rect x="385" y="400.8" width="3" height="3.5"/><rect x="389" y="400.1" width="1" height="9.7"/><rect x="388" y="400.8" width="3" height="6.0"/><rect x="395" y="404.1" width="1" height="8.7"/><rect x="394" y="404.3" width="3" height="8.5"/><rect x="398" y="404.3" width="1" height="12.6"/><rect x="397" y="406.3" width="3" height="8.5"/><rect x="400" y="409.3" width="1" height="7.0"/><rect x="399" y="410.3" width="3" height="5.0"/><rect x="403" y="411.3" width="1" height="7.5"/><rect x="402" y="413.8" width="3" height="4.0"/><rect x="406" y="414.8" width="1" height="9.0"/><rect x="405" y="417.3" width="3" height="1.0"/><rect x="409" y="418.3" width="1" height="5.5"/><rect x="408" y="418.3" width="3" height="1.0"/><rect x="412" y="421.1" width="1" height="15.6"/><rect x="411" y="422.9" width="3" height="7.7"/><rect x="415" y="424.1" width="1" height="9.5"/><rect x="414" y="425.9" width="3" height="5.7"/><rect x="418" y="439.2" width="1" height="10.5"/><rect x="417" y="439.2" width="3" height="10.5"/><rect x="423" y="438.2" width="1" height="12.1"/><rect x="422" y="442.2" width="3" height="2.5"/><rect x="426" y="436.2" width="1" height="9.5"/><rect x="425" y="440.2" width="3" height="1.0"/><rect x="440" y="365.1" width="1" height="23.6"/><rect x="439" y="368.1" width="3" height="20.1"/><rect x="443" y="391.2" width="1" height="15.6"/><rect x="442" y="391.2" width="3" height="14.6"/><rect x="449" y="383.2" width="1" height="12.6"/><rect x="448" y="386.2" width="3" height="6.5"/><rect x="457" y="370.1" width="1" height="8.5"/><rect x="456" y="370.1" width="3" height="5.5"/><rect x="460" y="370.1" width="1" height="8.5"/><rect x="459" y="372.1" width="3" height="6.5"/><rect x="466" y="366.1" width="1" height="8.5"/><rect x="465" y="369.6" width="3" height="4.5"/><rect x="471" y="361.1" width="1" height="10.5"/><rect x="470" y="361.3" width="3" height="2.8"/><rect x="474" y="359.1" width="1" height="6.5"/><rect x="473" y="362.3" width="3" height="1.6"/><rect x="489" y="329.3" width="1" height="8.5"/><rect x="488" y="332.3" width="3" height="4.8"/><rect x="494" y="314.2" width="1" height="7.5"/><rect x="493" y="315.2" width="3" height="1.0"/><rect x="500" y="315.2" width="1" height="23.6"/><rect x="499" y="318.2" width="3" height="16.6"/><rect x="506" y="333.3" width="1" height="11.5"/><rect x="505" y="337.3" width="3" height="1.5"/><rect x="514" y="320.0" width="1" height="8.7"/><rect x="513" y="320.2" width="3" height="3.5"/><rect x="517" y="319.2" width="1" height="6.5"/><rect x="516" y="319.2" width="3" height="4.0"/><rect x="520" y="321.0" width="1" height="8.7"/><rect x="519" y="322.0" width="3" height="3.7"/><rect x="525" y="330.8" width="1" height="8.5"/><rect x="524" y="331.5" width="3" height="6.8"/><rect x="528" y="330.1" width="1" height="8.7"/><rect x="527" y="332.1" width="3" height="5.7"/><rect x="534" y="324.0" width="1" height="9.7"/><rect x="533" y="324.7" width="3" height="8.5"/><rect x="537" y="329.3" width="1" height="11.5"/><rect x="536" y="329.3" width="3" height="4.5"/><rect x="545" y="303.1" width="1" height="24.6"/><rect x="544" y="315.2" width="3" height="5.5"/><rect x="557" y="272.0" width="1" height="23.6"/><rect x="556" y="274.0" width="3" height="14.6"/><rect x="562" y="269.8" width="1" height="12.8"/><rect x="561" y="271.5" width="3" height="5.6"/><rect x="565" y="269.8" width="1" height="13.1"/><rect x="564" y="270.3" width="3" height="9.5"/><rect x="571" y="262.8" width="1" height="19.1"/><rect x="570" y="263.8" width="3" height="12.1"/><rect x="577" y="241.0" width="1" height="17.1"/><rect x="576" y="243.0" width="3" height="12.8"/><rect x="582" y="249.2" width="1" height="9.5"/><rect x="581" y="252.0" width="3" height="6.7"/><rect x="585" y="250.0" width="1" height="19.8"/><rect x="584" y="252.0" width="3" height="3.7"/><rect x="588" y="256.0" width="1" height="11.8"/><rect x="587" y="256.0" width="3" height="11.8"/><rect x="591" y="281.0" width="1" height="22.6"/><rect x="590" y="281.0" width="3" height="19.6"/><rect x="594" y="276.0" width="1" height="16.6"/><rect x="593" y="285.6" width="3" height="1.0"/><rect x="597" y="284.1" width="1" height="17.6"/><rect x="596" y="286.1" width="3" height="13.1"/><rect x="602" y="263.1" width="1" height="9.7"/><rect x="601" y="263.3" width="3" height="1.0"/><rect x="605" y="261.1" width="1" height="16.8"/><rect x="604" y="261.1" width="3" height="16.8"/><rect x="611" y="265.1" width="1" height="10.7"/><rect x="610" y="265.1" width="3" height="10.2"/><rect x="619" y="244.2" width="1" height="17.6"/><rect x="618" y="248.2" width="3" height="4.5"/><rect x="628" y="208.2" width="1" height="11.3"/><rect x="627" y="209.5" width="3" height="6.5"/><rect x="631" y="220.1" width="1" height="18.6"/><rect x="630" y="223.1" width="3" height="6.8"/><rect x="639" y="227.1" width="1" height="23.6"/><rect x="638" y="231.1" width="3" height="17.6"/><rect x="648" y="237.2" width="1" height="37.7"/><rect x="647" y="241.0" width="3" height="31.3"/><rect x="656" y="236.2" width="1" height="24.6"/><rect x="655" y="236.2" width="3" height="23.6"/><rect x="659" y="256.0" width="1" height="25.8"/><rect x="658" y="258.0" width="3" height="22.3"/><rect x="662" y="279.1" width="1" height="43.7"/><rect x="661" y="284.2" width="3" height="28.6"/><rect x="668" y="293.2" width="1" height="35.7"/><rect x="667" y="296.0" width="3" height="32.3"/><rect x="673" y="282.2" width="1" height="23.6"/><rect x="672" y="282.2" width="3" height="23.6"/><rect x="690" y="267.1" width="1" height="19.6"/><rect x="689" y="267.9" width="3" height="18.8"/><rect x="699" y="262.3" width="1" height="21.4"/><rect x="698" y="262.3" width="3" height="18.4"/><rect x="702" y="268.1" width="1" height="23.6"/><rect x="701" y="268.9" width="3" height="22.8"/><rect x="710" y="261.1" width="1" height="14.6"/><rect x="709" y="261.9" width="3" height="6.2"/><rect x="724" y="214.1" width="1" height="15.6"/><rect x="723" y="217.1" width="3" height="4.5"/><rect x="727" y="219.1" width="1" height="9.5"/><rect x="726" y="222.3" width="3" height="2.3"/><rect x="736" y="219.3" width="1" height="11.3"/><rect x="735" y="219.3" width="3" height="5.8"/><rect x="739" y="217.1" width="1" height="13.6"/><rect x="738" y="218.1" width="3" height="9.0"/><rect x="741" y="220.1" width="1" height="15.6"/><rect x="740" y="220.1" width="3" height="9.0"/><rect x="747" y="221.1" width="1" height="7.5"/><rect x="746" y="221.9" width="3" height="4.7"/><rect x="750" y="228.1" width="1" height="22.6"/><rect x="749" y="231.1" width="3" height="12.6"/><rect x="753" y="243.2" width="1" height="13.6"/><rect x="752" y="246.0" width="3" height="7.7"/><rect x="759" y="234.1" width="1" height="21.6"/><rect x="758" y="235.2" width="3" height="15.6"/><rect x="767" y="220.1" width="1" height="10.5"/><rect x="766" y="220.9" width="3" height="6.7"/><rect x="770" y="229.1" width="1" height="10.5"/><rect x="769" y="229.1" width="3" height="9.5"/><rect x="773" y="229.1" width="1" height="14.6"/><rect x="772" y="229.1" width="3" height="3.5"/><rect x="776" y="240.2" width="1" height="14.6"/><rect x="775" y="243.2" width="3" height="9.5"/><rect x="778" y="247.2" width="1" height="15.6"/><rect x="777" y="248.2" width="3" height="12.1"/><rect x="781" y="266.1" width="1" height="15.8"/><rect x="780" y="268.1" width="3" height="1.0"/><rect x="784" y="257.0" width="1" height="12.8"/><rect x="783" y="261.1" width="3" height="5.7"/><rect x="793" y="257.2" width="1" height="25.6"/><rect x="792" y="257.2" width="3" height="24.6"/><rect x="798" y="291.2" width="1" height="18.6"/><rect x="797" y="294.2" width="3" height="13.1"/><rect x="801" y="289.2" width="1" height="17.6"/><rect x="800" y="296.0" width="3" height="4.7"/><rect x="810" y="278.2" width="1" height="13.6"/><rect x="809" y="281.0" width="3" height="9.7"/><rect x="818" y="258.0" width="1" height="10.7"/><rect x="817" y="258.3" width="3" height="8.5"/><rect x="824" y="242.2" width="1" height="9.5"/><rect x="823" y="245.2" width="3" height="1.5"/><rect x="835" y="224.1" width="1" height="16.6"/><rect x="834" y="230.1" width="3" height="6.5"/><rect x="841" y="236.2" width="1" height="11.5"/><rect x="840" y="239.3" width="3" height="5.0"/><rect x="847" y="230.0" width="1" height="6.7"/><rect x="846" y="230.2" width="3" height="2.8"/><rect x="849" y="227.0" width="1" height="16.8"/><rect x="848" y="227.0" width="3" height="11.8"/><rect x="852" y="234.2" width="1" height="6.5"/><rect x="851" y="235.0" width="3" height="5.7"/><rect x="858" y="228.2" width="1" height="6.0"/><rect x="857" y="228.2" width="3" height="1.0"/><rect x="864" y="216.2" width="1" height="11.5"/><rect x="863" y="220.7" width="3" height="5.0"/><rect x="866" y="220.2" width="1" height="17.6"/><rect x="865" y="220.7" width="3" height="9.0"/><rect x="872" y="227.2" width="1" height="16.6"/><rect x="871" y="229.2" width="3" height="12.6"/><rect x="886" y="216.2" width="1" height="8.5"/><rect x="885" y="218.2" width="3" height="4.0"/><rect x="898" y="200.1" width="1" height="11.5"/><rect x="897" y="200.1" width="3" height="9.5"/><rect x="901" y="203.1" width="1" height="6.5"/><rect x="900" y="203.1" width="3" height="6.0"/><rect x="903" y="198.1" width="1" height="16.6"/><rect x="902" y="201.1" width="3" height="8.0"/><rect x="906" y="200.1" width="1" height="18.6"/><rect x="905" y="201.1" width="3" height="14.6"/><rect x="920" y="193.1" width="1" height="16.6"/><rect x="919" y="197.6" width="3" height="9.0"/><rect x="923" y="211.1" width="1" height="20.6"/><rect x="922" y="211.1" width="3" height="15.6"/><rect x="926" y="220.2" width="1" height="23.6"/><rect x="925" y="222.2" width="3" height="19.6"/><rect x="946" y="216.2" width="1" height="24.6"/><rect x="945" y="216.7" width="3" height="9.0"/><rect x="957" y="182.1" width="1" height="10.5"/><rect x="956" y="182.6" width="3" height="7.5"/><rect x="966" y="171.1" width="1" height="9.5"/><rect x="965" y="173.1" width="3" height="3.5"/><rect x="972" y="176.6" width="1" height="9.0"/><rect x="971" y="179.1" width="3" height="3.5"/><rect x="974" y="180.1" width="1" height="17.6"/><rect x="973" y="180.1" width="3" height="12.6"/><rect x="977" y="188.2" width="1" height="14.6"/><rect x="976" y="188.7" width="3" height="6.0"/><rect x="980" y="198.2" width="1" height="10.5"/><rect x="979" y="198.2" width="3" height="4.5"/><rect x="986" y="197.0" width="1" height="9.7"/><rect x="985" y="200.0" width="3" height="1.0"/><rect x="989" y="207.2" width="1" height="14.6"/><rect x="988" y="207.2" width="3" height="7.0"/><rect x="992" y="210.3" width="1" height="14.6"/><rect x="991" y="214.8" width="3" height="10.0"/><rect x="1003" y="189.2" width="1" height="6.5"/><rect x="1002" y="192.2" width="3" height="2.0"/><rect x="1014" y="161.0" width="1" height="9.5"/><rect x="1013" y="166.1" width="3" height="3.0"/><rect x="1017" y="166.1" width="1" height="14.6"/><rect x="1016" y="166.6" width="3" height="8.0"/><rect x="1020" y="169.1" width="1" height="7.5"/><rect x="1019" y="170.1" width="3" height="6.0"/><rect x="1028" y="165.1" width="1" height="8.5"/><rect x="1027" y="166.1" width="3" height="2.5"/><rect x="1031" y="171.1" width="1" height="13.6"/><rect x="1030" y="172.1" width="3" height="6.5"/><rect x="1037" y="159.0" width="1" height="11.9"/><rect x="1036" y="169.3" width="3" height="1.3"/><rect x="1040" y="162.1" width="1" height="12.6"/><rect x="1039" y="162.9" width="3" height="1.7"/><rect x="1043" y="158.0" width="1" height="9.5"/><rect x="1042" y="161.2" width="3" height="2.3"/><rect x="1051" y="162.1" width="1" height="14.6"/><rect x="1050" y="162.1" width="3" height="11.5"/><rect x="1054" y="187.2" width="1" height="16.6"/><rect x="1053" y="189.4" width="3" height="3.3"/><rect x="1057" y="185.2" width="1" height="11.5"/><rect x="1056" y="187.2" width="3" height="3.0"/><rect x="1071" y="183.1" width="1" height="21.6"/><rect x="1070" y="188.0" width="3" height="15.8"/><rect x="1074" y="199.2" width="1" height="17.6"/><rect x="1073" y="202.2" width="3" height="12.6"/><rect x="1077" y="203.2" width="1" height="13.1"/><rect x="1076" y="209.2" width="3" height="6.5"/><rect x="1080" y="211.0" width="1" height="15.8"/><rect x="1079" y="211.2" width="3" height="4.0"/><rect x="1082" y="218.3" width="1" height="18.6"/><rect x="1081" y="219.3" width="3" height="13.6"/><rect x="1091" y="203.2" width="1" height="10.5"/><rect x="1090" y="211.7" width="3" height="1.0"/><rect x="1094" y="208.2" width="1" height="12.6"/><rect x="1093" y="209.2" width="3" height="10.5"/><rect x="1097" y="212.2" width="1" height="12.1"/><rect x="1096" y="223.1" width="3" height="1.0"/><rect x="1100" y="217.3" width="1" height="15.6"/><rect x="1099" y="219.3" width="3" height="11.0"/><rect x="1102" y="221.1" width="1" height="7.7"/><rect x="1101" y="223.9" width="3" height="1.0"/><rect x="1117" y="182.1" width="1" height="7.5"/><rect x="1116" y="184.1" width="3" height="3.5"/><rect x="1122" y="172.1" width="1" height="13.6"/><rect x="1121" y="178.1" width="3" height="7.0"/><rect x="1128" y="168.1" width="1" height="11.5"/><rect x="1127" y="172.3" width="3" height="4.3"/><rect x="1131" y="173.1" width="1" height="11.5"/><rect x="1130" y="180.6" width="3" height="2.0"/><rect x="1151" y="92.0" width="1" height="16.6"/><rect x="1150" y="101.6" width="3" height="2.0"/></g>
<g fill="none" stroke-width="1.2" stroke-linecap="butt"><line x1="10" y1="571.6" x2="743.8" y2="140.6" stroke="#2196f3"/><line x1="42.4" y1="593.4" x2="1081.9" y2="48.1" stroke="#2196f3"/><line x1="332.3" y1="496.5" x2="1184.5" y2="70.3" stroke="#f0524f"/><line x1="744.5" y1="331.2" x2="1189.8" y2="160" stroke="#f0524f"/></g>
<rect x="946" y="233" width="383" height="1" fill="#f28b89"/>
<path d="M10 103.5H1293" stroke="#ef5350" stroke-width="1" stroke-dasharray="1 2" fill="none"/>
<polyline fill="none" stroke="#8e1599" stroke-width="1.2" stroke-linejoin="round" points="10.2,737.7 10.5,733.2 14.0,733.2 17.1,728.7 20.1,732.7 24.9,724.7 28.1,729.2 31.3,725.2 34.1,724.2 36.6,727.2 39.8,736.9 42.2,728.2 45.0,729.7 48.2,726.2 51.2,724.2 54.0,725.7 56.9,718.1 62.2,736.9 73.8,727.7 76.3,723.2 79.3,723.4 84.8,735.5 88.2,729.4 91.1,735.0 93.9,725.7 95.9,725.7 98.9,719.2 101.9,726.4 104.9,726.0 107.9,724.2 111.0,720.7 113.0,727.7 115.5,723.0 119.0,723.2 121.5,719.2 124.5,712.6 128.0,709.1 130.0,704.8 132.5,705.9 135.6,705.9 139.0,704.6 141.8,731.4 147.6,724.2 150.1,719.7 153.1,716.6 156.1,717.3 158.9,719.5 162.1,716.6 165.1,715.9 167.1,726.2 170.0,724.2 173.0,732.9 176.0,728.7 179.2,720.7 182.0,725.7 187.0,712.6 190.0,718.4 195.8,709.3 199.1,711.6 201.1,719.2 204.1,714.1 206.8,716.3 209.3,717.1 212.8,715.3 216.1,708.6 218.9,711.3 221.2,709.6 223.9,719.2 226.9,726.2 229.9,711.6 233.1,725.2 235.9,717.6 238.2,714.3 241.2,717.3 244.0,712.3 247.0,707.6 249.5,707.3 253.0,708.6 255.0,716.1 257.7,715.9 260.8,724.5 264.1,713.1 266.8,718.1 269.9,719.2 273.0,713.6 281.1,726.7 286.6,719.2 291.9,712.1 294.9,722.2 297.9,715.3 301.0,716.3 304.2,707.1 307.0,699.8 308.7,730.7 312.0,736.9 315.0,751.8 318.0,741.4 321.0,744.8 324.3,745.5 329.1,730.4 331.8,734.2 335.1,735.7 338.1,741.4 340.8,741.2 344.1,737.7 346.1,746.5 349.4,741.7 352.2,737.2 354.9,727.7 357.9,725.7 361.2,726.4 362.9,717.6 365.9,732.2 368.9,720.9 372.0,724.7 375.0,718.6 379.5,712.6 383.5,705.3 386.5,707.3 389.5,710.3 392.5,713.1 395.6,716.6 398.1,719.2 400.1,719.2 403.2,723.2 406.2,723.4 409.1,725.0 411.9,738.2 415.1,740.4 417.1,755.5 419.9,742.0 423.1,748.8 426.3,744.8 429.1,735.2 432.2,721.2 435.0,709.6 437.0,705.6 440.2,711.6 443.0,725.7 446.0,716.3 449.0,720.7 452.0,716.3 454.3,710.1 457.1,714.6 460.1,717.4 463.1,713.6 466.1,716.1 469.1,711.9 471.5,710.6 474.3,710.6 477.4,706.9 480.2,703.9 483.2,698.9 485.9,697.6 488.9,698.1 490.9,690.8 493.9,689.5 496.9,689.2 499.6,712.3 503.0,712.3 506.0,717.6 508.5,712.6 511.0,708.1 513.5,708.1 517.0,708.4 520.0,711.6 522.7,720.2 525.4,723.2 527.9,727.7 530.8,721.7 537.1,725.4 539.9,715.1 542.6,713.6 545.3,712.6 548.1,704.6 551.1,707.3 553.9,693.0 556.9,696.3 559.6,691.8 562.2,690.8 565.0,695.9 568.0,688.8 571.0,705.3 574.0,696.1 576.7,698.6 579.0,695.0 581.7,708.1 585.1,707.6 588.1,718.6 591.1,741.4 593.8,733.7 596.1,740.2 599.1,727.2 602.1,723.4 604.8,730.4 607.9,727.2 611.1,729.7 613.9,719.7 616.4,720.7 619.2,720.0 621.9,709.9 624.9,707.3 628.2,705.3 631.0,715.6 633.0,721.2 636.0,714.6 638.8,730.4 642.0,734.2 645.0,724.7 648.0,742.8 653.1,729.0 662.1,755.3 664.8,747.1 667.9,757.1 670.1,743.8 673.1,747.3 675.9,738.4 678.9,740.7 681.9,736.2 686.9,731.7 690.0,741.4 693.0,738.7 696.0,733.2 699.0,739.2 702.0,743.3 704.0,742.3 707.0,730.0 710.0,734.0 713.0,735.4 716.1,728.0 718.8,719.7 722.1,716.3 724.3,721.2 726.8,722.0 729.8,718.3 732.8,719.4 735.8,723.7 738.9,724.7 741.1,728.4 743.9,724.4 746.9,726.2 749.9,736.0 752.9,741.2 755.9,732.0 757.9,739.7 761.0,732.2 764.0,727.0 767.0,729.2 770.0,735.2 773.0,732.4 776.0,742.3 778.5,747.1 781.0,750.1 784.1,748.3 787.1,744.8 790.1,739.0 793.0,753.3 795.2,752.8 798.1,762.8 801.1,758.3 803.9,746.5 806.9,749.3 809.9,750.8 814.9,735.4 817.9,737.2 821.0,729.7 823.7,727.7 826.7,727.2 829.7,725.2 832.0,721.4 834.7,722.2 838.0,719.9 841.0,729.2 844.1,720.7 847.1,723.7 849.1,727.7 852.1,729.7 855.1,724.2 858.1,722.0 861.1,716.6 866.1,727.4 868.9,722.4 871.9,736.9 874.9,735.7 880.9,729.7 882.9,721.7 885.9,724.4 888.9,713.9 892.0,710.6 895.3,710.3 898.0,721.0 901.0,718.6 903.3,719.0 909.0,736.9 912.0,728.2 915.1,721.7 917.6,722.7 920.2,724.7 922.8,741.4 925.8,751.3 929.1,751.3 932.1,743.3 934.9,729.7 937.1,732.2 939.9,729.2 942.9,729.7 945.9,739.2 948.9,730.2 952.0,722.4 955.0,719.7 959.2,714.1 963.0,709.3 966.0,710.1 969.0,714.1 972.0,716.9 973.8,726.0 977.1,728.7 980.1,736.0 983.1,732.4 986.1,735.4 991.1,753.3 994.1,747.3 997.2,744.1 999.9,727.7 1002.9,727.2 1005.9,721.7 1008.9,720.4 1010.9,712.1 1014.2,710.6 1016.9,716.9 1020.0,718.6 1023.0,716.9 1026.0,712.9 1028.3,715.1 1031.0,726.7 1034.0,724.2 1039.5,715.1 1042.5,714.3 1045.6,712.1 1048.4,711.3 1053.8,747.5 1057.1,746.1 1059.9,733.2 1063.1,725.4 1068.3,730.4 1070.9,754.3 1073.9,760.1 1076.9,760.8 1080.2,760.3 1082.4,769.6 1085.0,760.3 1088.2,757.5 1091.0,749.8 1094.0,753.8 1097.0,756.5 1099.0,760.8 1102.0,754.3 1105.1,736.4 1108.1,732.2 1111.1,728.2 1114.1,723.0 1116.8,725.4 1119.1,720.7 1122.1,726.2 1127.9,721.0 1131.1,727.0 1133.9,717.9 1136.4,715.6 1139.4,710.3 1142.2,706.1 1144.9,702.1 1147.9,690.8 1151.5,688.8"/>
<rect x="11" y="678" width="1381" height="1" fill="#787b86"/>
<rect x="11" y="779" width="1381" height="1" fill="#787b86"/>
<rect x="11" y="833" width="1381" height="1" fill="#787b86"/>
<rect x="1329" y="28" width="1" height="832" fill="#787b86"/>
<circle cx="523.4" cy="665.4" r="9.5" fill="#fff" stroke="#2157ff" stroke-width="2"/>
<text x="523.5" y="669.9" font-size="12" fill="#2157ff" font-weight="700" text-anchor="middle" textLength="7" lengthAdjust="spacingAndGlyphs">D</text>
<text x="1339.3" y="39.4" font-size="12" fill="#50535e" textLength="33.8" lengthAdjust="spacingAndGlyphs" stroke="#50535e" stroke-width="0.2">320.00</text>
<text x="1339.3" y="95.8" font-size="12" fill="#50535e" textLength="33.8" lengthAdjust="spacingAndGlyphs" stroke="#50535e" stroke-width="0.2">300.00</text>
<text x="1339.3" y="152.2" font-size="12" fill="#50535e" textLength="33.8" lengthAdjust="spacingAndGlyphs" stroke="#50535e" stroke-width="0.2">280.00</text>
<text x="1339.3" y="208.6" font-size="12" fill="#50535e" textLength="33.8" lengthAdjust="spacingAndGlyphs" stroke="#50535e" stroke-width="0.2">260.00</text>
<text x="1339.3" y="265.0" font-size="12" fill="#50535e" textLength="33.8" lengthAdjust="spacingAndGlyphs" stroke="#50535e" stroke-width="0.2">240.00</text>
<text x="1339.3" y="321.4" font-size="12" fill="#50535e" textLength="33.8" lengthAdjust="spacingAndGlyphs" stroke="#50535e" stroke-width="0.2">220.00</text>
<text x="1339.3" y="377.8" font-size="12" fill="#50535e" textLength="33.8" lengthAdjust="spacingAndGlyphs" stroke="#50535e" stroke-width="0.2">200.00</text>
<text x="1339.3" y="434.2" font-size="12" fill="#50535e" textLength="33.8" lengthAdjust="spacingAndGlyphs" stroke="#50535e" stroke-width="0.2">180.00</text>
<text x="1339.3" y="490.6" font-size="12" fill="#50535e" textLength="33.8" lengthAdjust="spacingAndGlyphs" stroke="#50535e" stroke-width="0.2">160.00</text>
<text x="1339.3" y="547.0" font-size="12" fill="#50535e" textLength="33.8" lengthAdjust="spacingAndGlyphs" stroke="#50535e" stroke-width="0.2">140.00</text>
<text x="1339.3" y="603.4" font-size="12" fill="#50535e" textLength="33.8" lengthAdjust="spacingAndGlyphs" stroke="#50535e" stroke-width="0.2">120.00</text>
<text x="1339.3" y="659.8" font-size="12" fill="#50535e" textLength="33.8" lengthAdjust="spacingAndGlyphs" stroke="#50535e" stroke-width="0.2">100.00</text>
<text x="1339.3" y="692.0" font-size="12" fill="#50535e" textLength="27.7" lengthAdjust="spacingAndGlyphs" stroke="#50535e" stroke-width="0.2">80.00</text>
<text x="1339.3" y="725.0" font-size="12" fill="#50535e" textLength="27.7" lengthAdjust="spacingAndGlyphs" stroke="#50535e" stroke-width="0.2">60.00</text>
<text x="1339.3" y="757.0" font-size="12" fill="#50535e" textLength="27.7" lengthAdjust="spacingAndGlyphs" stroke="#50535e" stroke-width="0.2">40.00</text>
<text x="1339.3" y="802.8" font-size="12" fill="#50535e" textLength="15.3" lengthAdjust="spacingAndGlyphs" stroke="#50535e" stroke-width="0.2">1.0</text>
<text x="62.5" y="851" font-size="12" fill="#50535e" text-anchor="middle" textLength="19.5" lengthAdjust="spacingAndGlyphs" stroke="#50535e" stroke-width="0.2">Maj</text>
<text x="182.5" y="851" font-size="12" fill="#50535e" text-anchor="middle" textLength="15" lengthAdjust="spacingAndGlyphs" stroke="#50535e" stroke-width="0.2">Lip</text>
<text x="304.5" y="851" font-size="12" fill="#50535e" text-anchor="middle" textLength="21.5" lengthAdjust="spacingAndGlyphs" stroke="#50535e" stroke-width="0.2">Wrz</text>
<text x="426.5" y="851" font-size="12" fill="#50535e" text-anchor="middle" textLength="13.8" lengthAdjust="spacingAndGlyphs" stroke="#50535e" stroke-width="0.2">LIs</text>
<text x="545.5" y="851" font-size="12" fill="#50535e" font-weight="700" text-anchor="middle" textLength="26.6" lengthAdjust="spacingAndGlyphs">2021</text>
<text x="653.5" y="851" font-size="12" fill="#50535e" text-anchor="middle" textLength="24" lengthAdjust="spacingAndGlyphs" stroke="#50535e" stroke-width="0.2">Mrz.</text>
<text x="778.5" y="851" font-size="12" fill="#50535e" text-anchor="middle" textLength="19.5" lengthAdjust="spacingAndGlyphs" stroke="#50535e" stroke-width="0.2">Maj</text>
<text x="898.5" y="851" font-size="12" fill="#50535e" text-anchor="middle" textLength="15" lengthAdjust="spacingAndGlyphs" stroke="#50535e" stroke-width="0.2">Lip</text>
<text x="1020.5" y="851" font-size="12" fill="#50535e" text-anchor="middle" textLength="21.5" lengthAdjust="spacingAndGlyphs" stroke="#50535e" stroke-width="0.2">Wrz</text>
<text x="1139.5" y="851" font-size="12" fill="#50535e" text-anchor="middle" textLength="13.8" lengthAdjust="spacingAndGlyphs" stroke="#50535e" stroke-width="0.2">LIs</text>
<text x="1259.5" y="851" font-size="12" fill="#50535e" font-weight="700" text-anchor="middle" textLength="26.6" lengthAdjust="spacingAndGlyphs">2022</text>
<rect x="1347.5" y="33.5" width="27" height="18" rx="4" fill="#fff" stroke="#d9dce4"/>
<text x="1361" y="46.2" font-size="12" fill="#6a6d78" text-anchor="middle" textLength="21.5" lengthAdjust="spacingAndGlyphs" stroke="#6a6d78" stroke-width="0.2">USD</text>
<path d="M1295 95H1328V112H1295a2 2 0 0 1-2-2V97a2 2 0 0 1 2-2z" fill="#ef5350"/>
<text x="1310.5" y="108" font-size="12" fill="#fff" text-anchor="middle" textLength="24" lengthAdjust="spacingAndGlyphs">SMH</text>
<path d="M1329 95H1387a2 2 0 0 1 2 2V124a2 2 0 0 1-2 2H1329z" fill="#ef5350"/>
<text x="1339.3" y="108" font-size="12" fill="#fff" font-weight="700" textLength="33.8" lengthAdjust="spacingAndGlyphs">295.94</text>
<text x="1339.3" y="121.9" font-size="12" fill="#fff" textLength="44" lengthAdjust="spacingAndGlyphs" fill-opacity="0.85">01:32:29</text>
<path d="M1329 225H1377a2 2 0 0 1 2 2V240a2 2 0 0 1-2 2H1329z" fill="#eb989c"/>
<text x="1339.3" y="238.1" font-size="12" fill="#000" font-weight="700" textLength="33.8" lengthAdjust="spacingAndGlyphs">249.75</text>
<text x="18" y="46" font-size="12" fill="#50535e" textLength="219.8" lengthAdjust="spacingAndGlyphs" stroke="#50535e" stroke-width="0.2">VanEck Semiconductor ETF, 1D, NASDAQ</text>
<text x="246.3" y="46" font-size="12" fill="#50535e" textLength="8.4" lengthAdjust="spacingAndGlyphs" stroke="#50535e" stroke-width="0.2">O</text>
<text x="255" y="46" font-size="12" fill="#ef5350" textLength="34.2" lengthAdjust="spacingAndGlyphs" stroke="#ef5350" stroke-width="0.2">296.68</text>
<text x="297" y="46" font-size="12" fill="#50535e" textLength="7.8" lengthAdjust="spacingAndGlyphs" stroke="#50535e" stroke-width="0.2">H</text>
<text x="305" y="46" font-size="12" fill="#ef5350" textLength="34.2" lengthAdjust="spacingAndGlyphs" stroke="#ef5350" stroke-width="0.2">299.74</text>
<text x="347.5" y="46" font-size="12" fill="#50535e" textLength="5.8" lengthAdjust="spacingAndGlyphs" stroke="#50535e" stroke-width="0.2">L</text>
<text x="353.3" y="46" font-size="12" fill="#ef5350" textLength="34.2" lengthAdjust="spacingAndGlyphs" stroke="#ef5350" stroke-width="0.2">293.97</text>
<text x="395.3" y="46" font-size="12" fill="#50535e" textLength="7.2" lengthAdjust="spacingAndGlyphs" stroke="#50535e" stroke-width="0.2">C</text>
<text x="402.5" y="46" font-size="12" fill="#ef5350" textLength="34.2" lengthAdjust="spacingAndGlyphs" stroke="#ef5350" stroke-width="0.2">295.94</text>
<text x="444.3" y="46" font-size="12" fill="#ef5350" textLength="74.6" lengthAdjust="spacingAndGlyphs" stroke="#ef5350" stroke-width="0.2">+1.64 (+0.56%)</text>
<text x="18" y="698" font-size="12" fill="#50535e" textLength="77.2" lengthAdjust="spacingAndGlyphs" stroke="#50535e" stroke-width="0.2">RSI (14, close)</text>
<text x="103.6" y="698" font-size="12" fill="#8e1599" textLength="27.6" lengthAdjust="spacingAndGlyphs" stroke="#8e1599" stroke-width="0.2">79.08</text>
<text x="18" y="799" font-size="12" fill="#50535e" textLength="61.4" lengthAdjust="spacingAndGlyphs" stroke="#50535e" stroke-width="0.2">PC (20, 1.3)</text>
<text x="88.2" y="799" font-size="12" fill="#131722" font-weight="700" textLength="15.8" lengthAdjust="spacingAndGlyphs">0.8</text>
<text x="10" y="18.6" font-size="12" fill="#131722" textLength="116.5" lengthAdjust="spacingAndGlyphs" stroke="#131722" stroke-width="0.2">bilioner published on</text>
<text x="130.4" y="18.6" font-size="12" fill="#131722" textLength="97.2" lengthAdjust="spacingAndGlyphs" stroke="#131722" stroke-width="0.2">TradingView.com,</text>
<text x="231.4" y="18.6" font-size="12" fill="#131722" textLength="119.6" lengthAdjust="spacingAndGlyphs" stroke="#131722" stroke-width="0.2">LIs 05, 2021 18:27 UTC</text>
<text x="33.2" y="882.7" font-size="13" fill="#131722" textLength="71.6" lengthAdjust="spacingAndGlyphs" stroke="#131722" stroke-width="0.2">TradingView</text>
<path d="M10.2 873H17.9V882.9H14V876.7H10.2z M25 873H29L25.8 882.9H21z" fill="#131722"/><circle cx="20.97" cy="875.15" r="2.05" fill="#131722"/>
</svg>
</body></html>
